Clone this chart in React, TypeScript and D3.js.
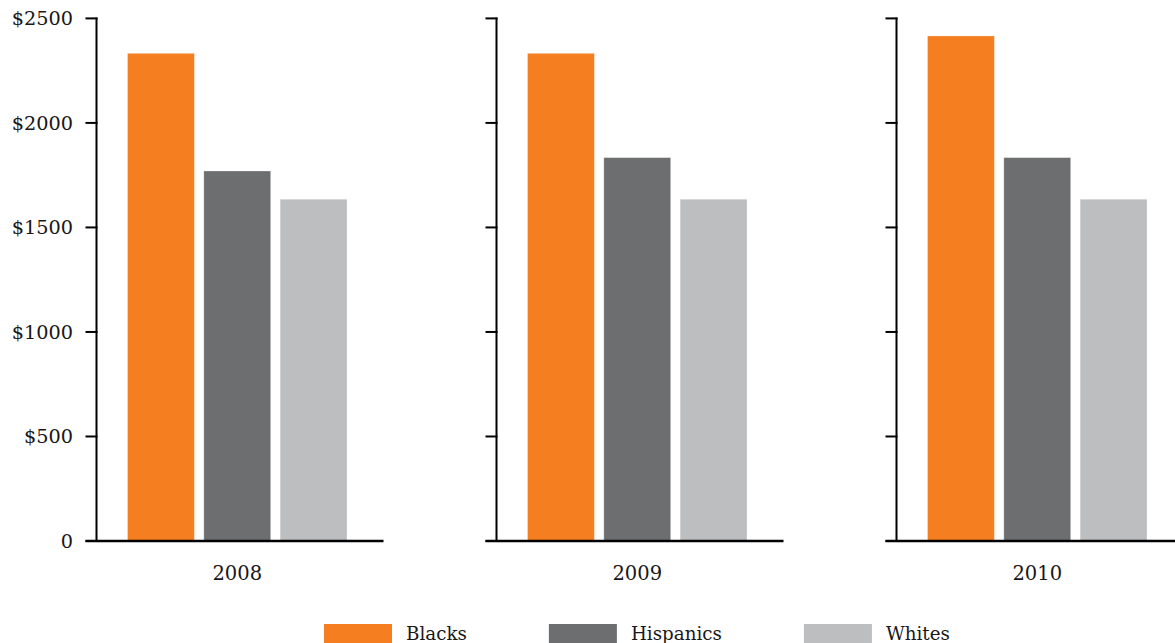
import React, { useEffect, useRef } from "react";
import * as d3 from "d3";

const years = ["2008", "2009", "2010"];
const series = ["Blacks", "Hispanics", "Whites"];
const colors = ["#F47E20", "#6D6E70", "#BCBEC0"];
const blacks = [2333, 2333, 2416];
const hispanics = [1770, 1834, 1834];
const whites = [1635, 1635, 1635];
const yTicks = [0, 500, 1000, 1500, 2000, 2500];

const W = 1175;
const H = 643;
const FONT = "'DejaVu Serif', serif";

export default function App() {
  const ref = useRef<SVGSVGElement>(null);

  useEffect(() => {
    const svg = d3.select(ref.current);
    svg.selectAll("*").remove();

    const values = [blacks, hispanics, whites];
    const y = d3.scaleLinear().domain([0, 2500]).range([541, 18.4]);
    const panel = d3.scaleBand<string>().domain(years).range([96.5, 96.5 + 1200]);
    const inner = d3
      .scaleBand<string>()
      .domain(series)
      .range([31, 250.5])
      .paddingInner(0.124)
      .paddingOuter(0);

    years.forEach((yr, yi) => {
      const x0 = panel(yr)!;
      const g = svg.append("g").attr("transform", `translate(${x0},0)`);

      series.forEach((s, si) => {
        const v = values[si][yi];
        g.append("rect")
          .attr("x", inner(s)!)
          .attr("y", y(v))
          .attr("width", inner.bandwidth())
          .attr("height", y(0) - y(v))
          .attr("fill", colors[si])
          .attr("stroke", "#ffffff")
          .attr("stroke-opacity", 0.35)
          .attr("stroke-width", 0.8);
      });

      g.append("line")
        .attr("x1", 0)
        .attr("x2", 0)
        .attr("y1", y(2500) - 1)
        .attr("y2", y(0))
        .attr("stroke", "#000")
        .attr("stroke-width", 2);

      yTicks.forEach((t) => {
        g.append("line")
          .attr("x1", -11)
          .attr("x2", 1)
          .attr("y1", y(t))
          .attr("y2", y(t))
          .attr("stroke", "#000")
          .attr("stroke-width", 2);
        if (yi === 0) {
          g.append("text")
            .attr("x", -23.5)
            .attr("y", y(t))
            .attr("dy", "0.35em")
            .attr("text-anchor", "end")
            .attr("font-family", FONT)
            .attr("font-size", 19.3)
            .attr("fill", "#1a1718")
            .text(t === 0 ? "0" : `$${t}`);
        }
      });

      g.append("line")
        .attr("x1", -11)
        .attr("x2", 287)
        .attr("y1", y(0))
        .attr("y2", y(0))
        .attr("stroke", "#000")
        .attr("stroke-width", 2.5);

      const cx = (inner(series[0])! + inner(series[2])! + inner.bandwidth()) / 2;
      g.append("text")
        .attr("x", cx)
        .attr("y", 580)
        .attr("text-anchor", "middle")
        .attr("font-family", FONT)
        .attr("font-size", 19.5)
        .attr("fill", "#1a1718")
        .text(yr);
    });

    const lg = svg.append("g");
    let lx = 324;
    series.forEach((s, si) => {
      lg.append("rect")
        .attr("x", lx)
        .attr("y", 624)
        .attr("width", 68)
        .attr("height", 22)
        .attr("fill", colors[si]);
      const t = lg
        .append("text")
        .attr("x", lx + 82)
        .attr("y", 640)
        .attr("font-family", FONT)
        .attr("font-size", 18.3)
        .attr("fill", "#1a1718")
        .text(s);
      const tw = (t.node() as SVGTextElement).getComputedTextLength();
      lx = lx + 82 + tw + 82;
    });
  }, []);

  return (
    <svg
      ref={ref}
      width={W}
      height={H}
      style={{ position: "absolute", left: 0, top: 0, background: "#fff" }}
    />
  );
}
